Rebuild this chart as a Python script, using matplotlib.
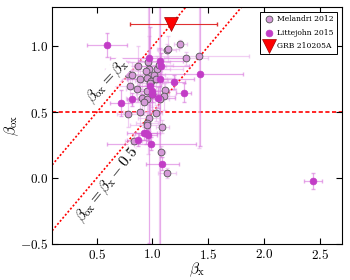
import matplotlib
matplotlib.use("Agg")
import matplotlib.pyplot as plt
import numpy as np

plt.rcParams['mathtext.fontset'] = 'cm'
plt.rcParams['font.family'] = ['DejaVu Serif']

# Melandri 2012
mel_bx = [1.25, 1.13, 1.14, 1.30, 1.42, 0.72, 0.78, 0.82, 0.87, 0.96, 0.97, 0.94, 1.04, 1.01,
          0.89, 0.95, 0.99, 1.03, 0.80, 0.86, 0.95, 0.91, 0.95, 1.00, 1.11, 1.10, 1.07, 0.89,
          0.78, 1.03, 0.97, 0.95, 0.95, 1.09, 0.83, 1.08, 1.13, 0.92, 1.06, 0.98]
mel_box = [1.02, 0.97, 0.98, 0.91, 0.93, 0.82, 0.79, 0.78, 0.85, 0.88, 0.83, 0.81, 0.83, 0.78,
           0.75, 0.76, 0.74, 0.75, 0.70, 0.68, 0.66, 0.61, 0.60, 0.64, 0.67, 0.62, 0.60, 0.505,
           0.49, 0.495, 0.455, 0.42, 0.40, 0.39, 0.28, 0.20, 0.04, 0.58, 0.86, 0.72]
mel_xerr = [0.06, 0.08, 0.10, 0.20, 0.45, 0.15, 0.20, 0.15, 0.25, 0.20, 0.30, 0.15, 0.12, 0.10,
            0.20, 0.25, 0.15, 0.10, 0.20, 0.10, 0.10, 0.15, 0.08, 0.15, 0.10, 0.10, 0.08, 0.15,
            0.10, 0.06, 0.10, 0.10, 0.15, 0.06, 0.08, 0.03, 0.08, 0.10, 0.12, 0.10]
mel_yerr = [0.03, 0.05, 0.10, 0.05, 0.70, 0.08, 0.10, 0.10, 0.15, 0.70, 0.25, 0.10, 0.10, 0.08,
            0.15, 0.12, 0.10, 0.10, 0.12, 0.10, 0.10, 0.12, 0.10, 0.10, 0.05, 0.10, 0.10, 0.10,
            0.10, 0.06, 0.10, 0.08, 0.10, 0.05, 0.05, 0.04, 0.04, 0.10, 1.40, 0.10]

# Littejohn 2015
lit_bx = [0.59, 0.97, 1.07, 1.08, 1.07, 1.19, 1.43, 0.98, 1.00, 1.00, 1.05, 1.28, 0.72, 0.82,
          0.92, 0.94, 0.96, 0.87, 0.99, 1.09, 2.44]
lit_box = [1.01, 0.91, 0.89, 0.85, 0.75, 0.73, 0.79, 0.70, 0.66, 0.64, 0.61, 0.65, 0.57, 0.60,
           0.34, 0.34, 0.33, 0.29, 0.26, 0.11, -0.02]
lit_xerr = [0.18, 0.35, 0.20, 0.25, 0.30, 0.10, 0.38, 0.10, 0.15, 0.10, 0.15, 0.07, 0.10, 0.05,
            0.15, 0.10, 0.08, 0.10, 0.40, 0.15, 0.08]
lit_yerr = [0.09, 1.40, 0.10, 0.10, 1.30, 0.05, 0.55, 0.45, 0.08, 0.12, 0.08, 0.07, 0.10, 0.05,
            0.05, 0.08, 0.05, 0.05, 0.05, 0.05, 0.06]

# GRB 210205A
grb_bx = [1.17]
grb_box = [1.17]
grb_xerr_lo = [0.37]
grb_xerr_hi = [0.41]

fig = plt.figure(figsize=(3.5, 2.8), dpi=100)
ax = fig.add_axes([0.149, 0.129, 0.828, 0.846])

xs = np.linspace(0.1, 2.7, 10)
ax.plot(xs, xs, ls=(0, (1.2, 1.2)), color='red', lw=1.2, zorder=1)
ax.plot(xs, xs - 0.5, ls=(0, (1.2, 1.2)), color='red', lw=1.2, zorder=1)
ax.axhline(0.5, ls=(0, (2.5, 1.5)), color='red', lw=1.2, zorder=1)

ax.errorbar(mel_bx, mel_box, xerr=mel_xerr, yerr=mel_yerr, fmt='none',
            ecolor='#e8b0ec', elinewidth=0.9, capsize=1.2, alpha=0.6, zorder=2)
ax.errorbar(lit_bx, lit_box, xerr=lit_xerr, yerr=lit_yerr, fmt='none',
            ecolor='#d874dc', elinewidth=0.9, capsize=1.2, alpha=0.6, zorder=2)
ax.scatter(mel_bx, mel_box, s=24, c='#d59ad8', edgecolors='#555555', linewidths=0.6,
           zorder=3, label='Melandri 2012')
ax.scatter(lit_bx, lit_box, s=24, c='#c23cc6', edgecolors='#c23cc6', linewidths=0.5,
           zorder=3, label='Littejohn 2015')
ax.errorbar(grb_bx, grb_box, xerr=[grb_xerr_lo, grb_xerr_hi], fmt='none', ecolor='#e03030',
            elinewidth=0.8, capsize=1.5, zorder=4)
ax.scatter(grb_bx, grb_box, s=100, marker='v', c='red', edgecolors='#a00000',
           linewidths=0.5, zorder=5, label='GRB 210205A')

ax.text(0.595, 0.735, r'$\beta_{\rm ox}=\beta_{\rm x}$', rotation=47, fontsize=11,
        ha='center', va='center', zorder=6,
        bbox=dict(facecolor='white', edgecolor='none', pad=0.1))
ax.text(0.60, -0.05, r'$\beta_{\rm ox}=\beta_{\rm x}-0.5$', rotation=51, fontsize=11,
        ha='center', va='center', zorder=6,
        bbox=dict(facecolor='white', edgecolor='none', pad=0.1))

ax.set_xlim(0.1, 2.7)
ax.set_ylim(-0.5, 1.3)
xt = [0.5, 1.0, 1.5, 2.0, 2.5]
yt = [-0.5, 0.0, 0.5, 1.0]
ax.set_xticks(xt)
ax.set_yticks(yt)
ax.set_xticklabels([r'$%.1f$' % v for v in xt], fontsize=9.5)
ax.set_yticklabels([r'$%.1f$' % v for v in yt], fontsize=9.5)
ax.tick_params(direction='in', top=True, right=True, length=4, width=0.8, pad=3)
for s in ax.spines.values():
    s.set_linewidth(0.8)
ax.set_xlabel(r'$\beta_{\rm x}$', fontsize=11, labelpad=-1)
ax.set_ylabel(r'$\beta_{\rm ox}$', fontsize=11, labelpad=-1)

leg = ax.legend(loc='upper right', fancybox=False, edgecolor='black',
                framealpha=1, borderpad=0.5, handletextpad=0.5, labelspacing=0.7,
                markerscale=1.0, handlelength=1.2, borderaxespad=0.6,
                prop={'family': 'DejaVu Serif', 'size': 5.5})
leg.get_frame().set_linewidth(0.7)

fig.savefig('out.png', dpi=100)
